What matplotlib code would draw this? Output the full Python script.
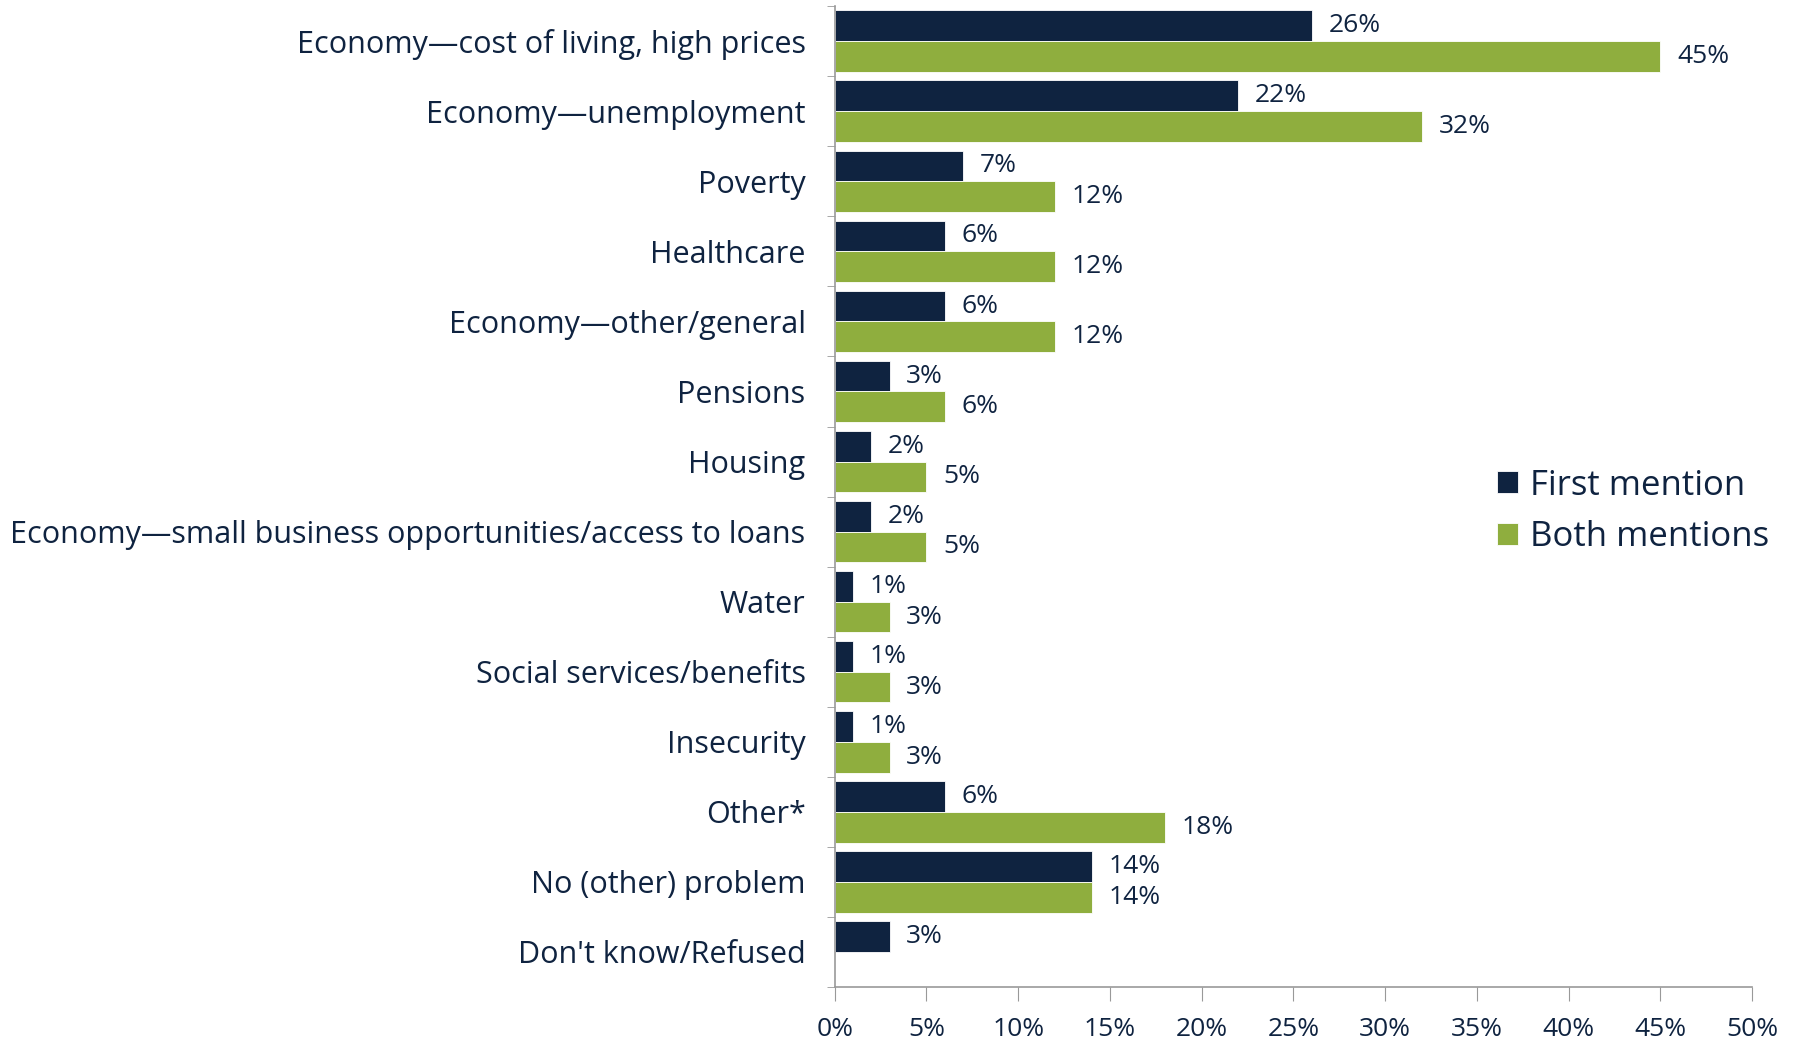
import numpy as np
import matplotlib
matplotlib.use("Agg")
import matplotlib.pyplot as plt

categories = [
    "Economy\u2014cost of living, high prices",
    "Economy\u2014unemployment",
    "Poverty",
    "Healthcare",
    "Economy\u2014other/general",
    "Pensions",
    "Housing",
    "Economy\u2014small business opportunities/access to loans",
    "Water",
    "Social services/benefits",
    "Insecurity",
    "Other*",
    "No (other) problem",
    "Don't know/Refused",
]
first_mention = [26, 22, 7, 6, 6, 3, 2, 2, 1, 1, 1, 6, 14, 3]
both_mentions = [45, 32, 12, 12, 12, 6, 5, 5, 3, 3, 3, 18, 14, None]

navy = "#0F2340"
green = "#8FAE3E"
text_col = "#0F2340"

plt.rcParams['font.family'] = ['Open Sans', 'DejaVu Sans']

fig = plt.figure(figsize=(17.99, 10.41), dpi=100)
ax = fig.add_axes([0.464, 0.052, 0.51, 0.942])

n = len(categories)
y = np.arange(n)
h = 0.44

for i in range(n):
    ax.barh(y[i] - h / 2, first_mention[i], height=h, color=navy,
            edgecolor="white", linewidth=0.6,
            label="First mention" if i == 0 else None)
    ax.text(first_mention[i] + 0.9, y[i] - h / 2, f"{first_mention[i]}%",
            va="center", ha="left", fontsize=19, color=text_col)
    if both_mentions[i] is not None:
        ax.barh(y[i] + h / 2, both_mentions[i], height=h, color=green,
                edgecolor="white", linewidth=0.6,
                label="Both mentions" if i == 0 else None)
        ax.text(both_mentions[i] + 0.9, y[i] + h / 2, f"{both_mentions[i]}%",
                va="center", ha="left", fontsize=19, color=text_col)

ax.set_ylim(n - 0.5, -0.5)
ax.set_xlim(0, 50)
ax.set_xticks(np.arange(0, 51, 5))
ax.set_xticklabels([f"{v}%" for v in range(0, 51, 5)], fontsize=19, color=text_col)

ax.set_yticks(y)
ax.set_yticklabels(categories, fontsize=22, color=text_col)
ax.tick_params(axis="y", length=0, pad=21)
ax.set_yticks(np.arange(-0.5, n, 1), minor=True)
ax.tick_params(axis="y", which="minor", length=6, color="#999999")
ax.tick_params(axis="x", length=10, direction="out", color="#999999", pad=12)

for s in ["top", "right"]:
    ax.spines[s].set_visible(False)
for s in ["left", "bottom"]:
    ax.spines[s].set_color("#999999")
    ax.spines[s].set_linewidth(1.2)

leg = ax.legend(loc="center left", bbox_to_anchor=(0.722, 0.485), frameon=False,
                fontsize=25, handlelength=0.6, handleheight=0.6,
                handletextpad=0.35, labelspacing=0.5,
                borderpad=0, borderaxespad=0)
for t in leg.get_texts():
    t.set_color(text_col)

fig.savefig("out.png", dpi=100)
